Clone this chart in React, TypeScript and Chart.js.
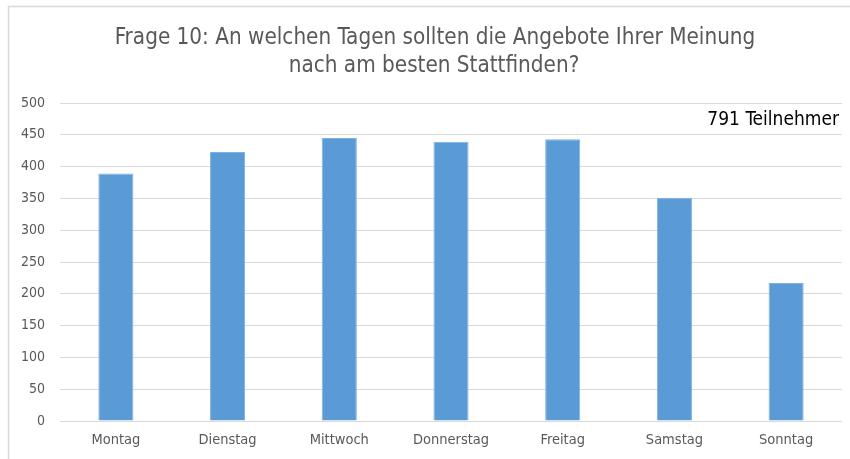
import React, { useEffect, useRef } from "react";
import { Chart, registerables } from "chart.js";

Chart.register(...registerables);

const categories = ["Montag", "Dienstag", "Mittwoch", "Donnerstag", "Freitag", "Samstag", "Sonntag"];
const values = [389, 423, 445, 439, 443, 351, 217];
const titleLines = ["Frage 10: An welchen Tagen sollten die Angebote Ihrer Meinung", "nach am besten Stattfinden?"];
const noteText = "791 Teilnehmer";
const yMax = 500;
const yStep = 50;

const FONT = "'Liberation Sans Narrow', 'DejaVu Sans Condensed', sans-serif";

export default function App() {
  const ref = useRef<HTMLCanvasElement | null>(null);
  useEffect(() => {
    document.body.style.margin = "0";
    const frame = {
      id: "frame",
      beforeDraw(chart: any) {
        const ctx = chart.ctx;
        ctx.save();
        ctx.fillStyle = "#ffffff";
        ctx.fillRect(0, 0, chart.width, chart.height);
        ctx.strokeStyle = "#d9d9d9";
        ctx.lineWidth = 1.5;
        ctx.strokeRect(8.5, 6.5, chart.width, chart.height);
        ctx.restore();
      },
      afterDraw(chart: any) {
        const ctx = chart.ctx;
        ctx.save();
        ctx.font = `22.3px ${FONT}`;
        ctx.fillStyle = "#595959";
        ctx.textAlign = "center";
        ctx.textBaseline = "alphabetic";
        ctx.fillText(titleLines[0], 435, 44);
        ctx.fillText(titleLines[1], 434, 72);
        ctx.font = `19px ${FONT}`;
        ctx.fillStyle = "#000000";
        ctx.textAlign = "right";
        ctx.textBaseline = "middle";
        const y = chart.scales.y.getPixelForValue(475);
        ctx.fillText(noteText, chart.chartArea.right - 3, y + 1);
        ctx.restore();
      },
    };
    const chart = new Chart(ref.current!, {
      type: "bar",
      data: {
        labels: categories,
        datasets: [
          {
            data: values,
            backgroundColor: "#5b9bd5",
            borderColor: "#7fb1e0",
            borderWidth: 1,
            barPercentage: 0.314,
            categoryPercentage: 1,
          },
        ],
      },
      options: {
        animation: false,
        responsive: false,
        layout: { padding: { left: 0, right: 8, top: 103, bottom: 0 } },
        plugins: {
          legend: { display: false },
          tooltip: { enabled: false },
          title: { display: false },
        },
        scales: {
          x: {
            afterFit(scale: any) {
              scale.height = 38;
            },
            grid: { display: false, drawTicks: false },
            border: { display: false },
            ticks: { color: "#595959", font: { family: FONT, size: 14.5 }, padding: 11, maxRotation: 0 },
          },
          y: {
            min: 0,
            max: yMax,
            afterFit(scale: any) {
              scale.width = 60;
            },
            grid: { color: "#d9d9d9", lineWidth: 1, drawTicks: false },
            border: { display: false },
            ticks: { stepSize: yStep, color: "#595959", font: { family: FONT, size: 14 }, padding: 15 },
          },
        },
      },
      plugins: [frame],
    });
    return () => chart.destroy();
  }, []);
  return (
    <div style={{ width: 850, height: 459 }}>
      <canvas ref={ref} width={850} height={459} />
    </div>
  );
}
